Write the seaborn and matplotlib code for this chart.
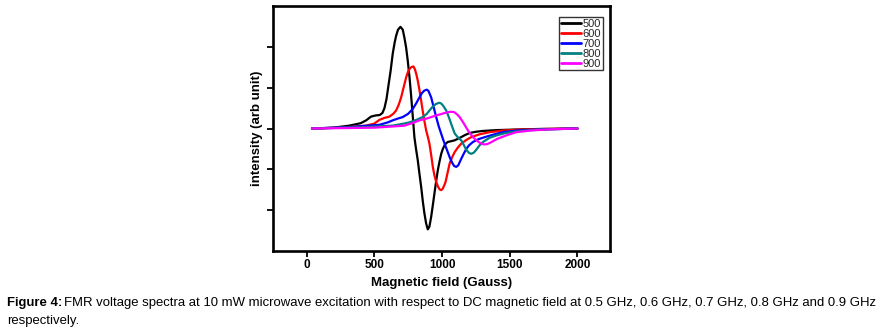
import numpy as np
import pandas as pd
import matplotlib
matplotlib.use("Agg")
import matplotlib.pyplot as plt
import seaborn as sns

# ---- data ----
labels = ["500", "600", "700", "800", "900"]
colors = ["#000000", "#ff0000", "#0000ff", "#008080", "#ff00ff"]

x500 = [40, 200, 315, 400, 440, 475, 510, 540, 560, 575,
        590, 600, 620, 636, 650, 661, 675, 693, 710, 722,
        735, 747, 760, 772, 784, 796, 808, 821, 833, 846,
        858, 870, 883, 895, 907, 920, 932, 944, 957, 969,
        982, 994, 1006, 1019, 1031, 1043, 1068, 1093, 1118, 1142,
        1170, 1204, 1250, 1302, 1400, 1500, 1600, 1750, 2000]
y500 = [0, 0.02, 0.07, 0.13, 0.2, 0.29, 0.32, 0.33, 0.38, 0.5,
        0.72, 0.95, 1.4, 1.83, 2.1, 2.27, 2.42, 2.49, 2.42, 2.23,
        1.98, 1.66, 1.25, 0.8, 0.3, -0.21, -0.5, -0.78, -1.1, -1.43,
        -1.78, -2.08, -2.33, -2.47, -2.4, -2.16, -1.88, -1.59, -1.28, -1.02,
        -0.8, -0.62, -0.5, -0.41, -0.36, -0.33, -0.31, -0.29, -0.25, -0.21,
        -0.16, -0.11, -0.08, -0.06, -0.04, -0.03, -0.02, -0.01, 0]

x600 = [40, 250, 438, 500, 537, 575, 611, 640, 661, 680,
        698, 716, 735, 750, 765, 778, 789, 800, 811, 821,
        833, 846, 858, 870, 883, 895, 907, 920, 932, 944,
        957, 970, 982, 994, 1006, 1018, 1026, 1040, 1056, 1075,
        1093, 1118, 1142, 1180, 1216, 1280, 1352, 1450, 1549, 1700,
        2000]
y600 = [0, 0.02, 0.07, 0.12, 0.21, 0.26, 0.29, 0.36, 0.44, 0.58,
        0.76, 1.0, 1.25, 1.4, 1.48, 1.51, 1.52, 1.45, 1.32, 1.17,
        0.95, 0.68, 0.42, 0.18, -0.05, -0.2, -0.37, -0.65, -0.94, -1.15,
        -1.31, -1.42, -1.49, -1.51, -1.47, -1.38, -1.31, -1.1, -0.86, -0.7,
        -0.58, -0.46, -0.37, -0.28, -0.21, -0.14, -0.09, -0.05, -0.03, -0.015,
        0]

x700 = [40, 300, 537, 600, 636, 680, 710, 750, 784, 810,
        833, 850, 866, 878, 888, 900, 920, 940, 957, 975,
        994, 1006, 1019, 1037, 1056, 1075, 1090, 1105, 1120, 1142,
        1160, 1179, 1200, 1228, 1270, 1327, 1390, 1450, 1550, 1700,
        2000]
y700 = [0, 0.03, 0.09, 0.15, 0.2, 0.25, 0.28, 0.36, 0.48, 0.62,
        0.76, 0.86, 0.92, 0.94, 0.95, 0.92, 0.76, 0.5, 0.28, 0.06,
        -0.13, -0.25, -0.37, -0.53, -0.7, -0.84, -0.92, -0.94, -0.9, -0.74,
        -0.62, -0.5, -0.41, -0.33, -0.26, -0.2, -0.14, -0.09, -0.05, -0.025,
        0]

x800 = [40, 400, 636, 718, 759, 810, 858, 888, 907, 930,
        955, 970, 981, 995, 1010, 1031, 1050, 1068, 1093, 1118,
        1142, 1160, 1179, 1200, 1216, 1235, 1253, 1275, 1302, 1350,
        1401, 1470, 1549, 1700, 2000]
y800 = [0, 0.03, 0.07, 0.12, 0.15, 0.21, 0.28, 0.36, 0.44, 0.53,
        0.6, 0.62, 0.63, 0.61, 0.55, 0.44, 0.28, 0.11, -0.12, -0.22,
        -0.29, -0.4, -0.52, -0.6, -0.62, -0.59, -0.52, -0.42, -0.33, -0.23,
        -0.17, -0.11, -0.07, -0.03, 0]

x900 = [40, 500, 685, 722, 780, 833, 883, 920, 957, 990,
        1020, 1045, 1068, 1090, 1110, 1130, 1150, 1165, 1179, 1200,
        1228, 1250, 1275, 1296, 1315, 1335, 1355, 1376, 1410, 1450,
        1500, 1549, 1650, 1800, 2000]
y900 = [0, 0.02, 0.06, 0.07, 0.13, 0.2, 0.24, 0.28, 0.32, 0.35,
        0.38, 0.4, 0.41, 0.4, 0.35, 0.28, 0.18, 0.1, 0.02, -0.09,
        -0.21, -0.28, -0.34, -0.38, -0.39, -0.38, -0.35, -0.31, -0.25, -0.2,
        -0.14, -0.09, -0.05, -0.02, 0]

xticks = [0, 500, 1000, 1500, 2000]
yticks = [-2, -1, 0, 1, 2]

xs = [x500, x600, x700, x800, x900]
ys = [y500, y600, y700, y800, y900]

df = pd.concat(
    [pd.DataFrame({"field": x, "intensity": y, "series": lab})
     for x, y, lab in zip(xs, ys, labels)],
    ignore_index=True)

# ---- styling ----
sns.set_theme(style="ticks")
plt.rcParams["font.family"] = ["Liberation Sans", "DejaVu Sans"]

W, H = 884, 331
fig = plt.figure(figsize=(W / 100, H / 100), dpi=100)
fig.patch.set_facecolor("white")
ax = fig.add_axes([272.7 / W, 1 - 251 / H, (610 - 272.7) / W, (251 - 6) / H])

sns.lineplot(data=df, x="field", y="intensity", hue="series",
             hue_order=labels, palette=colors, sort=False, estimator=None,
             linewidth=1.6, ax=ax)

ax.set_xlim(-250, 2240)
ax.set_ylim(-3, 3)
ax.set_xticks(xticks)
ax.set_xticklabels([str(t) for t in xticks], fontweight="bold", fontsize=8.5)
ax.set_yticks(yticks)
ax.set_yticklabels([])
for s in ax.spines.values():
    s.set_linewidth(1.9)
    s.set_color("black")
ax.tick_params(axis="both", direction="out", length=4, width=1.3,
               color="black", pad=2, labelcolor="black")
ax.set_xlabel("Magnetic field (Gauss)", fontweight="bold", fontsize=9.5,
              labelpad=4, color="black")
ax.set_ylabel("intensity (arb unit)", fontweight="bold", fontsize=9.5,
              labelpad=1, color="black")

leg = ax.legend(loc="upper right", bbox_to_anchor=(0.979, 0.955),
                fontsize=8, frameon=True, fancybox=False,
                borderpad=0.15, labelspacing=0.0, handlelength=1.8,
                handletextpad=0.15, borderaxespad=0.0)
leg.get_frame().set_edgecolor("black")
leg.get_frame().set_linewidth(1.0)
for line in leg.get_lines():
    line.set_linewidth(2.0)

# ---- caption ----
cap_fs = 9.45
t1 = fig.text(7 / W, 1 - 303 / H, "Figure 4:", fontweight="bold",
              fontsize=cap_fs, va="center", ha="left", color="black")
fig.canvas.draw()
bb = t1.get_window_extent()
fig.text((bb.x1 + 2) / W, 1 - 303 / H,
         "FMR voltage spectra at 10 mW microwave excitation with respect to DC magnetic field at 0.5 GHz, 0.6 GHz, 0.7 GHz, 0.8 GHz and 0.9 GHz",
         fontsize=cap_fs, va="center", ha="left", color="black")
fig.text(7 / W, 1 - 321 / H, "respectively.", fontsize=cap_fs, va="center",
         ha="left", color="black")

fig.savefig("out.png", dpi=100, facecolor="white")
